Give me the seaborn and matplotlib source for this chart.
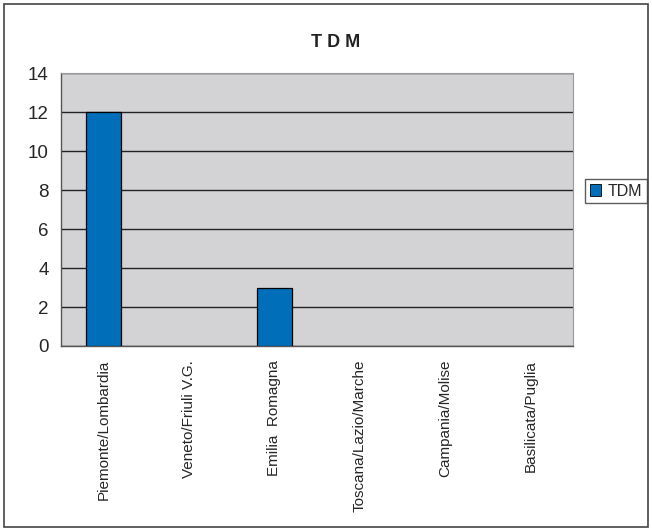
import matplotlib
matplotlib.use("Agg")
import matplotlib.pyplot as plt
import numpy as np
import pandas as pd
import seaborn as sns
from matplotlib.patches import Rectangle, Patch

# Data
regions = ['Piemonte/Lombardia', 'Veneto/Friuli V.G.', 'Emilia  Romagna',
           'Toscana/Lazio/Marche', 'Campania/Molise', 'Basilicata/Puglia']
tdm_values = [12, 0, 3, 0, 0, 0]
y_ticks = [0, 2, 4, 6, 8, 10, 12, 14]

df = pd.DataFrame({'region': regions, 'TDM': tdm_values})

sns.set_style('white')
plt.rcParams['font.family'] = ['Liberation Sans', 'DejaVu Sans']

fig = plt.figure(figsize=(6.52, 5.31), dpi=100)
ax = fig.add_axes([0.0936, 0.3484, 0.7853, 0.5141])

sns.barplot(data=df, x='region', y='TDM', color='#006EB8', width=0.41,
            edgecolor='black', linewidth=0.9, saturation=1, ax=ax, zorder=3)
# empty categories: no outline at the baseline
for bar in ax.patches:
    if bar.get_height() == 0:
        bar.set_visible(False)

ax.set_facecolor('#D3D3D5')
ax.set_ylim(0, 14)
ax.set_xlim(-0.5, len(regions) - 0.5)
ax.set_yticks(y_ticks)
ax.yaxis.grid(True, color='#222222', linewidth=1.0, zorder=1)
ax.set_axisbelow(True)
ax.tick_params(axis='y', labelsize=13.5, length=5, width=0.8, color='#555555', pad=4)

# category boundary ticks, Excel-style
ax.set_xticks(np.arange(len(regions)))
ax.set_xticklabels(regions, rotation=90, fontsize=11, va='top')
ax.set_xticks(np.arange(-0.5, len(regions)), minor=True)
ax.tick_params(axis='x', which='major', length=0, pad=10)
ax.tick_params(axis='x', which='minor', length=6, width=0.8, color='#555555')

for side in ['left', 'bottom']:
    ax.spines[side].set_color('#555555')
    ax.spines[side].set_linewidth(1.0)
for side in ['top', 'right']:
    ax.spines[side].set_color('#999999')
    ax.spines[side].set_linewidth(0.8)

ax.set_xlabel('')
ax.set_ylabel('')

fig.text(0.515, 0.920, 'T D M', ha='center', va='center', fontsize=13,
         fontweight='bold', color='#222222')

handle = Patch(facecolor='#006EB8', edgecolor='black', linewidth=0.6)
fig.legend([handle], ['TDM'], loc='center left', bbox_to_anchor=(0.898, 0.640),
           frameon=True, fancybox=False, edgecolor='#333333', fontsize=11.5,
           handlelength=0.7, handleheight=0.7, handletextpad=0.4,
           borderpad=0.3, borderaxespad=0)

# outer chart border
fig.patches.append(Rectangle((0.006, 0.008), 0.988, 0.984, transform=fig.transFigure,
                             fill=False, edgecolor='#444444', linewidth=1.2))

fig.savefig('out.png', dpi=100)
